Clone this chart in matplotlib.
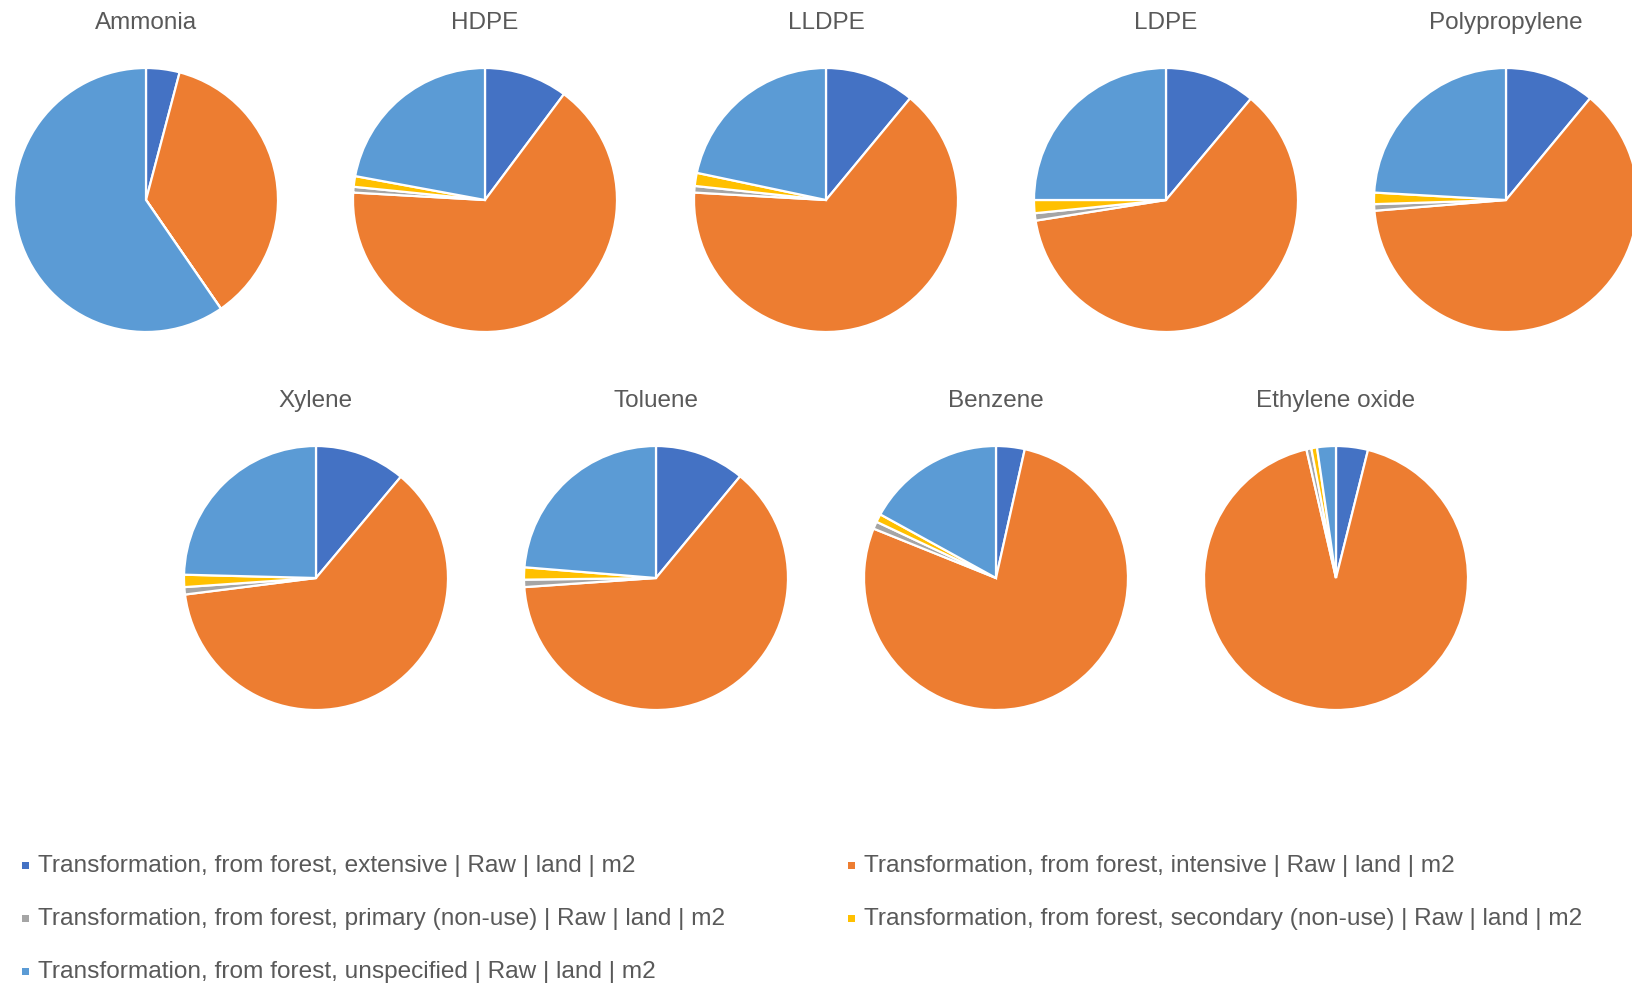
import matplotlib.pyplot as plt
from matplotlib.patches import Rectangle

plt.rcParams['font.family'] = ['Liberation Sans', 'DejaVu Sans']

# land transformation shares (%) per product
products = ["Ammonia", "HDPE", "LLDPE", "LDPE", "Polypropylene",
            "Xylene", "Toluene", "Benzene", "Ethylene oxide"]
extensive = [4.1, 10.2, 11.0, 11.1, 11.0, 11.1, 11.0, 3.5, 3.9]
intensive = [36.3, 65.7, 64.9, 61.4, 62.7, 61.9, 62.9, 77.6, 92.5]
primary = [0.0, 0.7, 0.8, 0.9, 0.8, 0.9, 0.9, 0.9, 0.6]
secondary = [0.0, 1.3, 1.6, 1.6, 1.4, 1.5, 1.5, 1.0, 0.7]
unspecified = [59.6, 22.1, 21.7, 25.0, 24.1, 24.6, 23.7, 17.0, 2.3]

labels = ["Transformation, from forest, extensive | Raw | land | m2",
          "Transformation, from forest, intensive | Raw | land | m2",
          "Transformation, from forest, primary (non-use) | Raw | land | m2",
          "Transformation, from forest, secondary (non-use) | Raw | land | m2",
          "Transformation, from forest, unspecified | Raw | land | m2"]
colors = ["#4472C4", "#ED7D31", "#A5A5A5", "#FFC000", "#5B9BD5"]
text_color = "#595959"

W, H = 1633, 987
fig = plt.figure(figsize=(W / 100, H / 100), dpi=100)

# pie centres in pixels (top row of 5, bottom row of 4)
centres = [(146, 201), (485, 201), (826, 201), (1166, 201), (1506, 201),
           (316, 579), (656, 579), (996, 579), (1336, 579)]
radius = 132
title_y = {201: 23, 579: 401}

for i, name in enumerate(products):
    cx, cy = centres[i]
    ax = fig.add_axes([(cx - radius) / W, 1 - (cy + radius) / H,
                       2 * radius / W, 2 * radius / H])
    vals = [extensive[i], intensive[i], primary[i], secondary[i], unspecified[i]]
    ax.pie(vals, colors=colors, startangle=90, counterclock=False, radius=1,
           wedgeprops=dict(edgecolor="white", linewidth=1.6))
    ax.set_xlim(-1, 1)
    ax.set_ylim(-1, 1)
    ax.set_aspect("equal")
    ax.axis("off")
    for p in ax.patches:
        p.set_clip_on(False)
    fig.text(cx / W, 1 - title_y[cy] / H, name, ha="center", va="center",
             fontsize=17.5, color=text_color)

# legend, row-major like the spreadsheet layout
legend_pos = [(24, 866), (850, 866), (24, 919), (850, 919), (24, 972)]
for (lx, ly), lab, col in zip(legend_pos, labels, colors):
    fig.add_artist(Rectangle(((lx - 2) / W, 1 - (ly + 4) / H), 7 / W, 7 / H,
                             transform=fig.transFigure, color=col, lw=0))
    fig.text((lx + 14) / W, 1 - ly / H, lab, ha="left", va="center",
             fontsize=17.6, color=text_color)

fig.savefig("out.png", dpi=100)
